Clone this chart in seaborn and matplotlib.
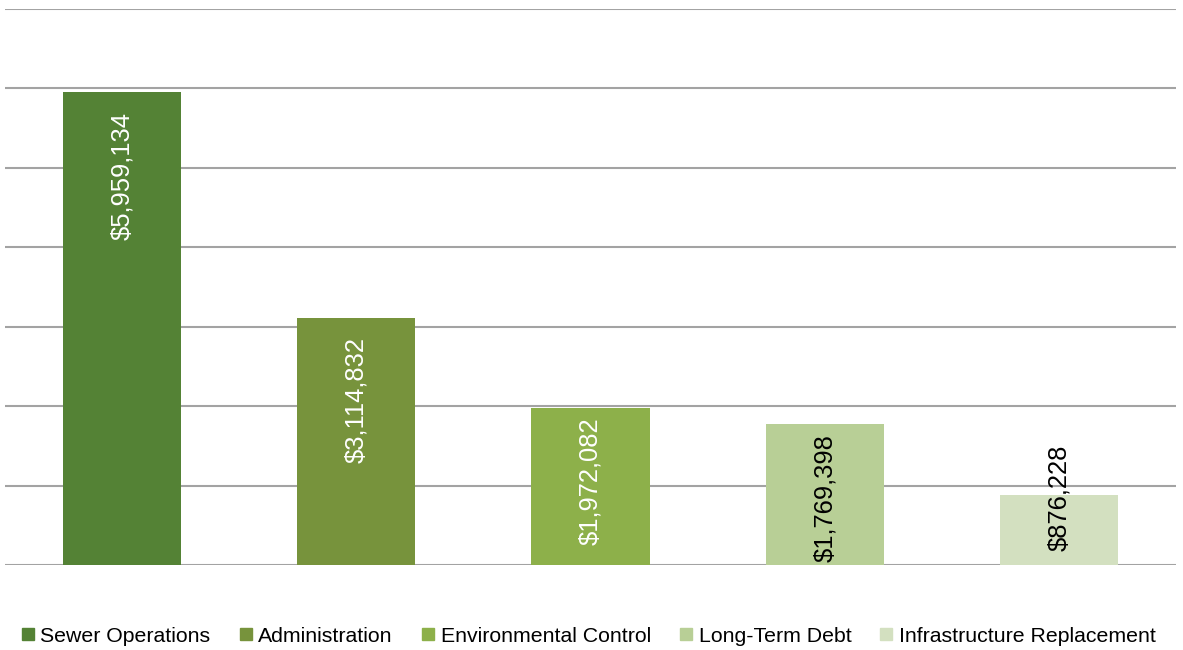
import matplotlib
matplotlib.use("Agg")
import matplotlib.pyplot as plt
from matplotlib.lines import Line2D
import seaborn as sns
import pandas as pd

categories = ["Sewer Operations", "Administration", "Environmental Control",
              "Long-Term Debt", "Infrastructure Replacement"]
amounts = [5959134, 3114832, 1972082, 1769398, 876228]
colors = ["#548235", "#77933C", "#8DB04A", "#B8CF96", "#D3E0C0"]
label_colors = ["white", "white", "white", "black", "black"]
# vertical shift (pixels) of each label's top edge from its bar's top
label_shift_px = [-20, -19, -9, -10, 51]

sns.set_theme(style="white")
plt.rcParams["font.family"] = ["Liberation Sans", "DejaVu Sans"]
plt.rcParams["text.color"] = "black"

df = pd.DataFrame({"category": categories, "amount": amounts})

fig = plt.figure(figsize=(11.83, 6.5), dpi=100)
ax = fig.add_axes([5 / 1183, 85 / 650, 1171 / 1183, 556 / 650])

sns.barplot(data=df, x="category", y="amount", hue="category",
            palette=colors, order=categories, hue_order=categories,
            dodge=False, width=0.505, saturation=1, legend=False, ax=ax,
            linewidth=0, zorder=3)

ax.set_ylim(0, 7_000_000)
ax.set_xlim(-0.5, len(categories) - 0.5)
ax.set_yticks(range(0, 7_000_001, 1_000_000))
ax.yaxis.grid(True, color="#A3A3A3", linewidth=1.5, zorder=0)
ax.xaxis.grid(False)
ax.set_yticklabels([])
ax.set_xticks([])
ax.set_xlabel("")
ax.set_ylabel("")
for s in ax.spines.values():
    s.set_visible(False)
ax.tick_params(left=False, bottom=False)

# value labels, rotated, near the inside end of each bar
for i, (v, c, dy) in enumerate(zip(amounts, label_colors, label_shift_px)):
    ax.annotate(f"${v:,.0f}", (i, v), xytext=(0, dy * 0.72),
                textcoords="offset points", rotation=90, ha="center",
                va="top", color=c, fontsize=18.4, zorder=5)

handles = [Line2D([0], [0], marker="s", linestyle="none", markersize=9,
                  markerfacecolor=col, markeredgecolor=col) for col in colors]
fig.legend(handles, categories, loc="center", bbox_to_anchor=(0.4958, 1 - 636 / 650),
           ncol=5, frameon=False, fontsize=15.3, handletextpad=0.1,
           columnspacing=1.15, handlelength=1.0, labelcolor="black")

fig.savefig("out.png", dpi=100)
